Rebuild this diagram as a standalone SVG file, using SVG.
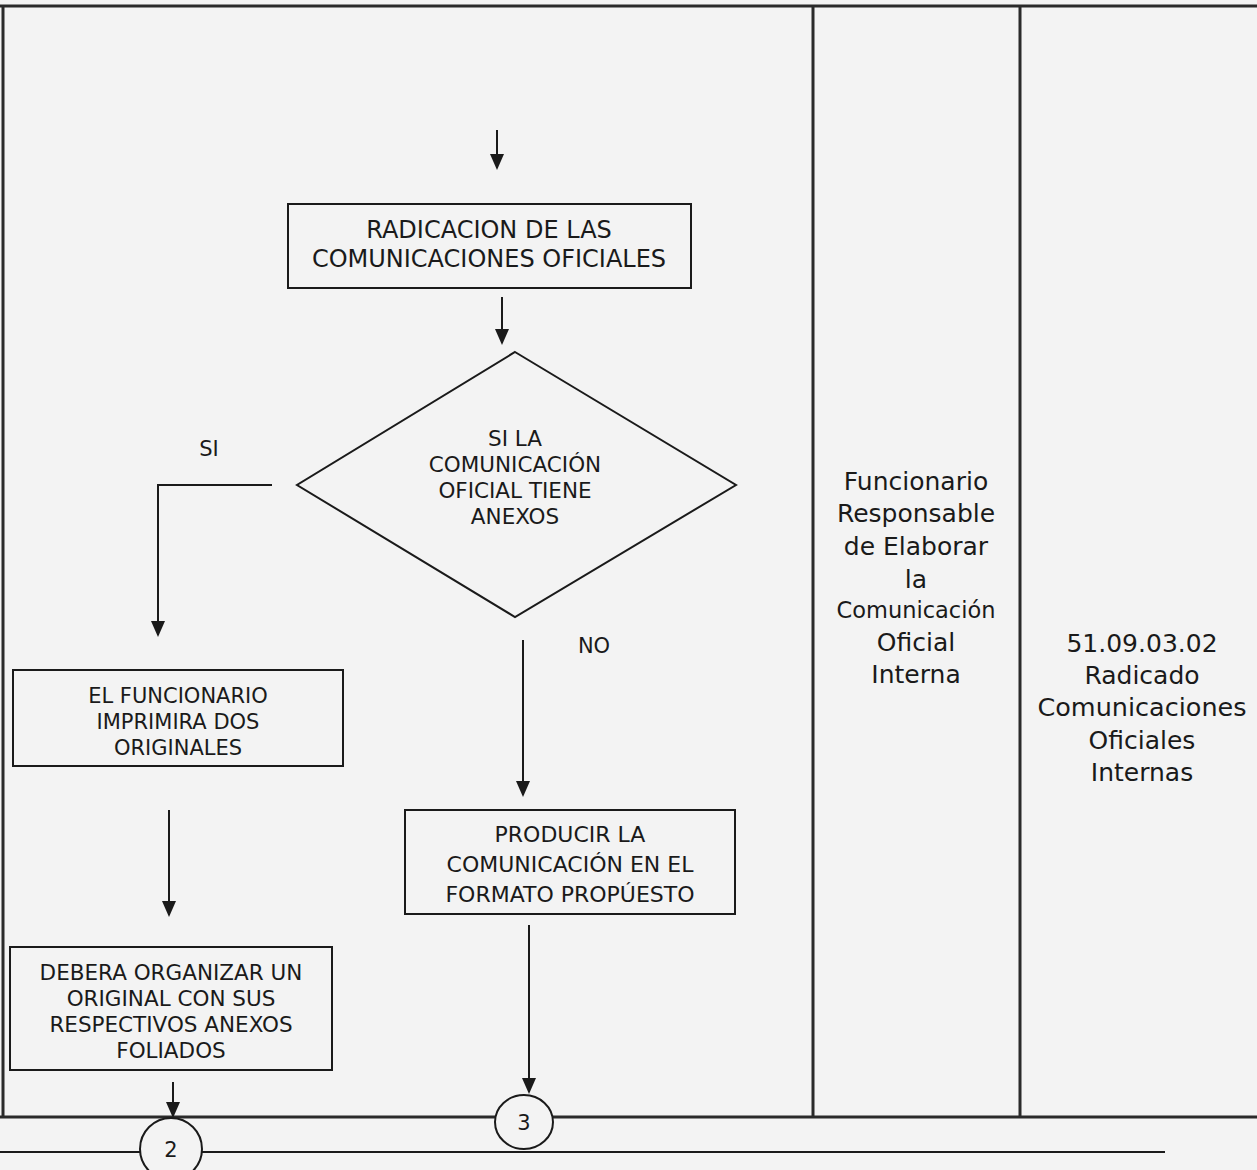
<svg xmlns="http://www.w3.org/2000/svg" width="1257" height="1170" viewBox="0 0 1257 1170">
<style>
.t{font-family:"DejaVu Sans","Verdana",sans-serif;fill:#1a1a1a;text-anchor:middle}
.box{fill:none;stroke:#1a1a1a;stroke-width:2}
.ln{fill:none;stroke:#1a1a1a;stroke-width:2}
.frame{fill:none;stroke:#2a2a2a;stroke-width:3}
.circ{fill:#f3f3f3;stroke:#1a1a1a;stroke-width:2}
</style>
<defs>
<marker id="arr" markerWidth="16" markerHeight="16" refX="14" refY="7" orient="auto" markerUnits="userSpaceOnUse" viewBox="0 0 16 14">
<path d="M0,0 L16,7 L0,14 Z" fill="#1a1a1a"/>
</marker>
</defs>
<rect x="0" y="0" width="1257" height="1170" fill="#f3f3f3"/>
<g id="frame">
<line class="frame" x1="0" y1="6" x2="1257" y2="6"/>
<line class="frame" x1="3" y1="6" x2="3" y2="1117"/>
<line class="frame" x1="813" y1="6" x2="813" y2="1117"/>
<line class="frame" x1="1020" y1="6" x2="1020" y2="1117"/>
<line class="frame" x1="0" y1="1117" x2="1257" y2="1117"/>
<line class="ln" x1="0" y1="1152" x2="1165" y2="1152"/>
</g>
<g id="connectors">
<line class="ln" x1="497" y1="130" x2="497" y2="168" marker-end="url(#arr)"/>
<line class="ln" x1="502" y1="297" x2="502" y2="343" marker-end="url(#arr)"/>
<polyline class="ln" points="272,485 158,485 158,635" marker-end="url(#arr)"/>
<line class="ln" x1="523" y1="640" x2="523" y2="795" marker-end="url(#arr)"/>
<line class="ln" x1="169" y1="810" x2="169" y2="915" marker-end="url(#arr)"/>
<line class="ln" x1="529" y1="925" x2="529" y2="1092" marker-end="url(#arr)"/>
<line class="ln" x1="173" y1="1082" x2="173" y2="1116" marker-end="url(#arr)"/>
<text class="t" x="209" y="456" font-size="21">SI</text>
<text class="t" x="594" y="653" font-size="21">NO</text>
</g>
<g id="n-radicacion">
<rect class="box" x="288" y="204" width="403" height="84"/>
<text class="t" x="489" y="238" font-size="24">RADICACION DE LAS</text>
<text class="t" x="489" y="267" font-size="24">COMUNICACIONES OFICIALES</text>
</g>
<g id="n-decision">
<polygon class="box" points="515,352 736,485 515,617 297,485"/>
<text class="t" x="515" y="446" font-size="21.5">SI LA</text>
<text class="t" x="515" y="472" font-size="21.5">COMUNICACIÓN</text>
<text class="t" x="515" y="498" font-size="21.5">OFICIAL TIENE</text>
<text class="t" x="515" y="524" font-size="21.5">ANEXOS</text>
</g>
<g id="n-imprimir">
<rect class="box" x="13" y="670" width="330" height="96"/>
<text class="t" x="178" y="703" font-size="21">EL FUNCIONARIO</text>
<text class="t" x="178" y="729" font-size="21">IMPRIMIRA DOS</text>
<text class="t" x="178" y="755" font-size="21">ORIGINALES</text>
</g>
<g id="n-producir">
<rect class="box" x="405" y="810" width="330" height="104"/>
<text class="t" x="570" y="842" font-size="22">PRODUCIR LA</text>
<text class="t" x="570" y="872" font-size="22">COMUNICACIÓN EN EL</text>
<text class="t" x="570" y="902" font-size="22">FORMATO PROPÚESTO</text>
</g>
<g id="n-organizar">
<rect class="box" x="10" y="947" width="322" height="123"/>
<text class="t" x="171" y="980" font-size="21.5">DEBERA ORGANIZAR UN</text>
<text class="t" x="171" y="1006" font-size="21.5">ORIGINAL CON SUS</text>
<text class="t" x="171" y="1032" font-size="21.5">RESPECTIVOS ANEXOS</text>
<text class="t" x="171" y="1058" font-size="21.5">FOLIADOS</text>
</g>
<g id="n-conector2">
<ellipse class="circ" cx="171" cy="1149" rx="31" ry="31"/>
<text class="t" x="171" y="1157" font-size="21">2</text>
</g>
<g id="n-conector3">
<ellipse class="circ" cx="524" cy="1122" rx="29" ry="27"/>
<text class="t" x="524" y="1130" font-size="21">3</text>
</g>
<g id="n-responsable">
<text class="t" x="916" y="490" font-size="25">Funcionario</text>
<text class="t" x="916" y="522" font-size="25">Responsable</text>
<text class="t" x="916" y="555" font-size="25">de Elaborar</text>
<text class="t" x="916" y="588" font-size="25">la</text>
<text class="t" x="916" y="618" font-size="22.5">Comunicación</text>
<text class="t" x="916" y="651" font-size="25">Oficial</text>
<text class="t" x="916" y="683" font-size="25">Interna</text>
</g>
<g id="n-registro">
<text class="t" x="1142" y="652" font-size="25">51.09.03.02</text>
<text class="t" x="1142" y="684" font-size="25">Radicado</text>
<text class="t" x="1142" y="716" font-size="25.5">Comunicaciones</text>
<text class="t" x="1142" y="749" font-size="25">Oficiales</text>
<text class="t" x="1142" y="781" font-size="25">Internas</text>
</g>
</svg>
